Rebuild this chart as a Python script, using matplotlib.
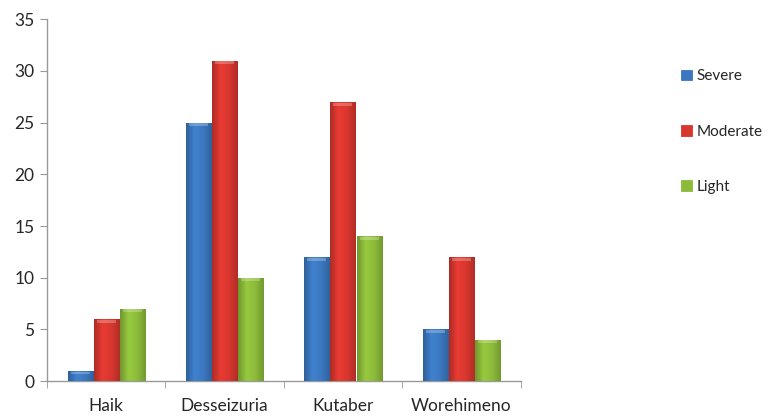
import numpy as np
import matplotlib
matplotlib.use("Agg")
import matplotlib.pyplot as plt
from matplotlib.colors import LinearSegmentedColormap

categories = ["Haik", "Desseizuria", "Kutaber", "Worehimeno"]
severe = [1, 25, 12, 5]
moderate = [6, 31, 27, 12]
light = [7, 10, 14, 4]
series_names = ["Severe", "Moderate", "Light"]
series_colors = ["#3b78c0", "#d8372f", "#8cbb3a"]

plt.rcParams['font.family'] = ['Lato', 'DejaVu Sans']

fig = plt.figure(figsize=(7.69, 4.17), dpi=100)
ax = fig.add_axes([0.061, 0.086, 0.616, 0.868])

x = np.arange(len(categories))
w = 0.22
for k, (vals, col, name) in enumerate(zip([severe, moderate, light], series_colors, series_names)):
    bars = ax.bar(x + (k - 1) * w, vals, w * 0.96, color=col, edgecolor=col,
                  linewidth=0.6, label=name, zorder=2)
    # soft horizontal shading to mimic the Excel bevel look
    base = np.array(matplotlib.colors.to_rgb(col))
    cmap = LinearSegmentedColormap.from_list(
        name, [base * 0.8, np.minimum(base * 1.08, 1), base, base * 0.82])
    grad = np.linspace(0, 1, 64).reshape(1, -1)
    for b in bars:
        x0, y0 = b.get_x(), b.get_y()
        bw, bh = b.get_width(), b.get_height()
        im = ax.imshow(grad, cmap=cmap, aspect='auto', extent=[x0, x0 + bw, y0, y0 + bh],
                       zorder=3, interpolation='bicubic')
        im.set_clip_path(b)
        cap = min(0.35, bh * 0.5)
        ax.fill_between([x0 + bw * 0.12, x0 + bw * 0.88], y0 + bh - cap, y0 + bh - cap * 0.2,
                        color='white', alpha=0.25, linewidth=0, zorder=4)

ax.set_xlim(-0.5, len(categories) - 0.5)
ax.set_ylim(0, 35)
ax.set_yticks(range(0, 36, 5))
ax.set_xticks(x)
ax.set_xticklabels(categories)
ax.set_xticks(np.arange(-0.5, len(categories), 1), minor=True)
ax.tick_params(axis='x', which='major', length=0, pad=12, labelsize=12.5, labelcolor='#262626')
ax.tick_params(axis='x', which='minor', length=5, color='#999999', direction='out')
ax.tick_params(axis='y', length=5, color='#999999', labelsize=12.5, labelcolor='#262626', pad=4)
for s in ['top', 'right']:
    ax.spines[s].set_visible(False)
for s in ['left', 'bottom']:
    ax.spines[s].set_color('#999999')
    ax.spines[s].set_linewidth(1)

leg = ax.legend(loc='upper left', bbox_to_anchor=(0.878, 0.848), bbox_transform=fig.transFigure,
                frameon=False, fontsize=11, handlelength=0.7, handleheight=0.7,
                handletextpad=0.3, labelspacing=2.7, borderaxespad=0)
for t in leg.get_texts():
    t.set_color('#262626')

fig.savefig("out.png", dpi=100, facecolor='white')
